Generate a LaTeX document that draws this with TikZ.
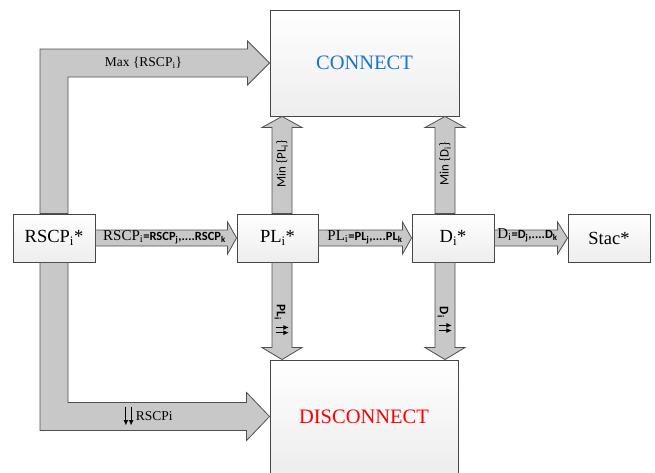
\documentclass[tikz,border=0pt]{standalone}
\usepackage{fontspec}
\setmainfont{Liberation Serif}
\newfontfamily\labelsans{Carlito}
\usetikzlibrary{calc,arrows.meta}
\definecolor{arrowfill}{RGB}{200,200,200}
\definecolor{arrowline}{RGB}{80,80,80}
\definecolor{boxline}{RGB}{70,70,70}
\definecolor{connectblue}{RGB}{30,115,205}
\newcommand{\sub}[1]{\textsubscript{#1}}
% sans part of the equality labels inside the arrow shafts
\newcommand{\ssub}[1]{{\labelsans\bfseries\fontsize{12.5}{13}\selectfont #1}}
% a pair of parallel arrows; #1 = length, #2 = raise, #3 = u (up) or d (down)
\newcommand{\pairarrows}[3]{\raisebox{#2}{\tikz[x=1pt,y=1pt,line width=1.1pt,
    >={Latex[length=5.5pt,width=5pt]}]{%
    \ifx#3u\draw[->] (0,0) -- (0,#1); \draw[->] (5.2,0) -- (5.2,#1);%
    \else\draw[->] (0,#1) -- (0,0); \draw[->] (5.2,#1) -- (5.2,0);\fi}}}
\tikzset{
  box/.style={draw=boxline, line width=0.9pt, top color=white, bottom color=gray!14,
    minimum height=48pt, inner sep=0pt, font=\fontsize{18.5}{20}\selectfont},
  bigbox/.style={box, font=\fontsize{20.5}{22}\selectfont},
  barrow/.style={draw=arrowline, line width=0.8pt, fill=arrowfill, line join=miter},
  lbl/.style={inner sep=0pt, font=\fontsize{13.5}{15}\selectfont},
  slbl/.style={inner sep=0pt, font=\labelsans\fontsize{13}{14}\selectfont},
  blbl/.style={inner sep=0pt, font=\labelsans\bfseries\fontsize{13}{14}\selectfont},
  mix/.style={inner sep=0pt, font=\fontsize{15}{16}\selectfont},
}
\begin{document}
\begin{tikzpicture}[x=1pt, y=-1pt]
  \useasboundingbox (0,0) rectangle (655,472);
  \clip (0,0) rectangle (655,472);

  % boxes
  \node[bigbox, minimum width=189pt, minimum height=106pt] (connect) at (364.5,63) {\textcolor{connectblue}{CONNECT}};
  \node[bigbox, minimum width=188pt, minimum height=113pt] (disconnect) at (364,416.5) {\textcolor{red}{DISCONNECT}};
  \node[box, minimum width=82pt] (rscp) at (54,238) {RSCP\sub{i}*};
  \node[box, minimum width=81pt] (pl) at (277.5,238) {PL\sub{i}*};
  \node[box, minimum width=82pt] (di) at (453,238) {D\sub{i}*};
  \node[box, minimum width=82pt] (stac) at (609,238) {Stac*};

  % L-shaped arrow up to CONNECT
  \draw[barrow] let \p1=(rscp.north), \p2=(connect.west) in
    (\x1-14pt,\y1) -- (\x1-14pt,\y2+14pt) -- (\x2-22pt,\y2+14pt) -- (\x2-22pt,\y2+22pt)
    -- (\x2,\y2) -- (\x2-22pt,\y2-22pt) -- (\x2-22pt,\y2-14pt) -- (\x1+14pt,\y2-14pt)
    -- (\x1+14pt,\y1) -- cycle;
  % L-shaped arrow down to DISCONNECT
  \draw[barrow] let \p1=(rscp.south), \p2=(disconnect.west) in
    (\x1-14pt,\y1) -- (\x1-14pt,\y2-14pt) -- (\x2-23pt,\y2-14pt) -- (\x2-23pt,\y2-24pt)
    -- (\x2,\y2) -- (\x2-23pt,\y2+24pt) -- (\x2-23pt,\y2+14pt) -- (\x1+14pt,\y2+14pt)
    -- (\x1+14pt,\y1) -- cycle;

  % horizontal arrows between the boxes
  \draw[barrow] let \p1=(rscp.east), \p2=(pl.west) in
    (\x1,\y1+8pt) -- (\x2-9pt,\y1+8pt) -- (\x2-9pt,\y1+16pt) -- (\x2,\y1)
    -- (\x2-9pt,\y1-16pt) -- (\x2-9pt,\y1-8pt) -- (\x1,\y1-8pt) -- cycle;
  \draw[barrow] let \p1=(pl.east), \p2=(di.west) in
    (\x1,\y1+8pt) -- (\x2-9pt,\y1+8pt) -- (\x2-9pt,\y1+16pt) -- (\x2,\y1)
    -- (\x2-9pt,\y1-16pt) -- (\x2-9pt,\y1-8pt) -- (\x1,\y1-8pt) -- cycle;
  \draw[barrow] let \p1=(di.east), \p2=(stac.west) in
    (\x1,\y1+8pt) -- (\x2-10pt,\y1+8pt) -- (\x2-10pt,\y1+16pt) -- (\x2,\y1)
    -- (\x2-10pt,\y1-16pt) -- (\x2-10pt,\y1-8pt) -- (\x1,\y1-8pt) -- cycle;

  % vertical arrows from PL and D
  \draw[barrow] let \p1=([xshift=4.5pt]pl.north), \p2=(connect.south) in
    (\x1-10pt,\y1) -- (\x1-10pt,\y2-11pt) -- (\x1-20pt,\y2-11pt) -- (\x1,\y2)
    -- (\x1+20pt,\y2-11pt) -- (\x1+10pt,\y2-11pt) -- (\x1+10pt,\y1) -- cycle;
  \draw[barrow] let \p1=([xshift=4.5pt]pl.south), \p2=(disconnect.north) in
    (\x1-10pt,\y1) -- (\x1-10pt,\y2+12pt) -- (\x1-20pt,\y2+12pt) -- (\x1,\y2)
    -- (\x1+20pt,\y2+12pt) -- (\x1+10pt,\y2+12pt) -- (\x1+10pt,\y1) -- cycle;
  \draw[barrow] let \p1=([xshift=-8pt]di.north), \p2=(connect.south) in
    (\x1-10pt,\y1) -- (\x1-10pt,\y2-11pt) -- (\x1-20pt,\y2-11pt) -- (\x1,\y2)
    -- (\x1+20pt,\y2-11pt) -- (\x1+10pt,\y2-11pt) -- (\x1+10pt,\y1) -- cycle;
  \draw[barrow] let \p1=([xshift=-8pt]di.south), \p2=(disconnect.north) in
    (\x1-10pt,\y1) -- (\x1-10pt,\y2+12pt) -- (\x1-20pt,\y2+12pt) -- (\x1,\y2)
    -- (\x1+20pt,\y2+12pt) -- (\x1+10pt,\y2+12pt) -- (\x1+10pt,\y1) -- cycle;

  % arrow labels
  \node[lbl] (lmax) at (143.5,63) {Max \{RSCP\sub{i}\}};
  \node[lbl] (lmin) at (148,416) {\pairarrows{19}{-6pt}{d}\,RSCPi};
  \node[mix] (lrscp) at (164.5,237) {RSCP\sub{i}\ssub{=RSCP\sub{j},....RSCP\sub{k}}};
  \node[mix] (lpl) at (365,237) {PL\sub{i}\ssub{=PL\sub{j},....PL\sub{k}}};
  \node[mix] (ld) at (527.5,235) {D\sub{i}\ssub{=D\sub{j},....D\sub{k}}};
  \node[slbl, rotate=90] (lminpl) at (282,164) {Min \{PL\sub{i}\}};
  \node[slbl, rotate=90] (lmind) at (445,164) {Min \{D\sub{i}\}};
  \node[blbl, rotate=-90] (lplup) at (282,320) {PL\sub{i}\hspace{5pt}\pairarrows{13}{-1.5pt}{u}};
  \node[blbl, rotate=-90] (ldup) at (445,320) {D\sub{i}\hspace{5pt}\pairarrows{13}{-1.5pt}{u}};
\end{tikzpicture}
\end{document}
